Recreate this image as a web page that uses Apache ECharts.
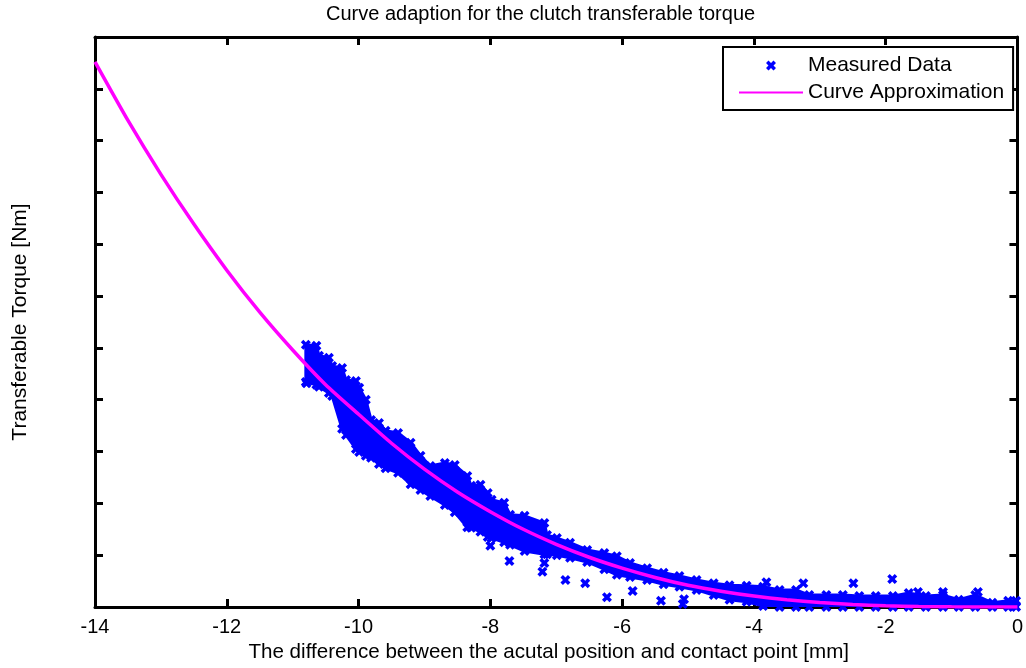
<!DOCTYPE html>
<html>
<head>
<meta charset="utf-8">
<script src="https://cdn.jsdelivr.net/npm/echarts@6/dist/echarts.min.js"></script>
<style>html,body{margin:0;padding:0;background:#fff;}#chart{width:1026px;height:668px;}</style>
</head>
<body>
<div id="chart"></div>
<script>
// Approximation curve
const curveX = [-14,-13.5,-13,-12.5,-12,-11.5,-11,-10.5,-10,-9.5,-9,-8.5,-8,-7.5,-7,-6.5,-6,-5.5,-5,-4.5,-4,-3.5,-3,-2.5,-2,-1.5,-1,-0.5,0];
const curveY = [10.52,9.39,8.35,7.39,6.50,5.69,4.96,4.29,3.72,3.16,2.66,2.22,1.84,1.50,1.21,0.96,0.75,0.57,0.42,0.305,0.211,0.139,0.086,0.049,0.024,0.010,0.003,0.0005,0];

// Dense measured-data band: lower and upper envelope
const bandX = [-10.80,-10.64,-10.60,-10.45,-10.40,-10.25,-10.19,-10.04,-9.99,-9.89,-9.81,-9.69,-9.59,-9.40,-9.21,-9.06,-8.91,-8.69,-8.54,-8.35,-8.29,-8.15,-8.04,-7.98,-7.79,-7.70,-7.48,-7.18,-7.14,-6.99,-6.79,-6.53,-6.27,-6.08,-5.88,-5.62,-5.37,-5.13,-4.87,-4.61,-4.37,-4.11,-3.86,-3.61,-3.36,-3.16,-2.90,-2.65,-2.40,-2.15,-1.89,-1.65,-1.39,-1.13,-0.89,-0.64,-0.38,-0.14,-0.02];
const bandHigh = [5.06,5.04,4.85,4.81,4.65,4.61,4.38,4.36,4.23,4.00,3.61,3.55,3.40,3.36,3.17,2.92,2.72,2.78,2.74,2.53,2.34,2.36,2.20,2.07,2.01,1.78,1.76,1.62,1.39,1.33,1.24,1.10,1.04,0.98,0.85,0.75,0.66,0.60,0.52,0.46,0.42,0.41,0.39,0.33,0.33,0.23,0.23,0.23,0.21,0.21,0.21,0.27,0.21,0.23,0.14,0.23,0.08,0.12,0.12];
const bandLow = [4.34,4.29,4.25,4.13,4.07,3.44,3.32,3.05,2.99,2.92,2.88,2.76,2.68,2.59,2.37,2.26,2.14,1.97,1.83,1.54,1.53,1.45,1.35,1.33,1.25,1.20,1.08,1.02,1.02,1.00,0.95,0.87,0.73,0.62,0.58,0.52,0.44,0.39,0.33,0.23,0.14,0.10,0.02,0,0,0,0,0,0,0,0,0,0,0,0,0,0,0,0];

// Isolated measured points
const outX = [-8.00,-7.71,-7.18,-7.21,-6.86,-6.56,-6.23,-5.84,-5.41,-5.06,-5.08,-3.81,-3.25,-2.49,-1.90,-1.51,-1.13,-0.60,-10.79];
const outY = [1.18,0.89,0.85,0.68,0.52,0.46,0.19,0.31,0.12,0.15,0.06,0.48,0.46,0.46,0.54,0.29,0.29,0.29,4.32];

const xTicks = [-14,-12,-10,-8,-6,-4,-2,0];

const X_SYM = 'path://M0,2.5 L2.5,0 L5,2.5 L7.5,0 L10,2.5 L7.5,5 L10,7.5 L7.5,10 L5,7.5 L2.5,10 L0,7.5 L2.5,5 Z';
const BLUE = '#0000ff';
const MAG = '#ff00ff';
const FONT = 'Liberation Sans, Arial, sans-serif';

const chart = echarts.init(document.getElementById('chart'), null, {renderer: 'canvas'});

const axisLine = {show: true, onZero: false, lineStyle: {color: '#000', width: 3}};
const axisTick = {show: true, inside: true, length: 8, lineStyle: {color: '#000', width: 3}};

function renderBand(params, api) {
  if (params.dataIndex !== 0) return null;
  const pts = [];
  for (let i = 0; i < bandX.length; i++) pts.push(api.coord([bandX[i], bandHigh[i]]));
  for (let i = bandX.length - 1; i >= 0; i--) pts.push(api.coord([bandX[i], bandLow[i]]));
  return {
    type: 'polygon',
    shape: {points: pts},
    style: {fill: BLUE, stroke: BLUE, lineWidth: 3, lineJoin: 'round'}
  };
}

chart.setOption({
  animation: false,
  backgroundColor: '#fff',
  title: {
    text: 'Curve adaption for the clutch transferable torque',
    left: 326, top: 4, padding: 0,
    textStyle: {fontFamily: FONT, fontSize: 20, fontWeight: 'normal', color: '#000'}
  },
  grid: {left: 95, right: 4, top: 37, bottom: 61, containLabel: false},
  legend: {
    data: ['Measured Data', 'Curve Approximation'],
    orient: 'vertical', left: 723, top: 47, align: 'left',
    padding: [8, 9, 7, 15], itemGap: 6, itemWidth: 64, itemHeight: 10,
    borderColor: '#000', borderWidth: 2, backgroundColor: '#fff', borderRadius: 0,
    textStyle: {fontFamily: FONT, fontSize: 21, color: '#000'}
  },
  xAxis: [{
    type: 'value', min: -14, max: 0, interval: 2, position: 'bottom',
    name: 'The difference between the acutal position and contact point [mm]',
    nameLocation: 'middle', nameGap: 35,
    nameTextStyle: {fontFamily: FONT, fontSize: 20.6, color: '#000', padding: [0, 15, 0, 0]},
    axisLine: axisLine, axisTick: axisTick, splitLine: {show: false},
    axisLabel: {fontFamily: FONT, fontSize: 20, color: '#000', margin: 10,
      formatter: v => xTicks.includes(v) ? String(v) : ''}
  }, {
    type: 'value', min: -14, max: 0, interval: 2, position: 'top',
    axisLine: axisLine, axisTick: axisTick, splitLine: {show: false}, axisLabel: {show: false}
  }],
  yAxis: [{
    type: 'value', min: 0, max: 11, interval: 1, position: 'left',
    name: 'Transferable Torque [Nm]', nameLocation: 'middle', nameGap: 64,
    nameTextStyle: {fontFamily: FONT, fontSize: 21, color: '#000'},
    axisLine: axisLine, axisTick: axisTick, splitLine: {show: false}, axisLabel: {show: false}
  }, {
    type: 'value', min: 0, max: 11, interval: 1, position: 'right',
    axisLine: axisLine, axisTick: axisTick, splitLine: {show: false}, axisLabel: {show: false}
  }],
  series: [
    {
      name: 'band', type: 'custom', renderItem: renderBand,
      data: bandX.map((x, i) => [x, bandLow[i]]),
      encode: {x: 0, y: 1}, clip: true, silent: true, z: 2
    },
    {
      name: 'bandUpperEdge', type: 'scatter',
      data: bandX.map((x, i) => [x, bandHigh[i]]),
      symbol: X_SYM, symbolSize: 10, itemStyle: {color: BLUE, opacity: 1}, silent: true, z: 2
    },
    {
      name: 'bandLowerEdge', type: 'scatter',
      data: bandX.map((x, i) => [x, bandLow[i]]),
      symbol: X_SYM, symbolSize: 10, itemStyle: {color: BLUE, opacity: 1}, silent: true, z: 2
    },
    {
      name: 'Measured Data', type: 'scatter',
      data: outX.map((x, i) => [x, outY[i]]),
      symbol: X_SYM, symbolSize: 10, itemStyle: {color: BLUE, opacity: 1}, z: 3
    },
    {
      name: 'Curve Approximation', type: 'line',
      data: curveX.map((x, i) => [x, curveY[i]]),
      symbol: 'none', smooth: 0.2,
      lineStyle: {color: MAG, width: 3.5},
      itemStyle: {color: 'rgba(255,0,255,0)'}, z: 4
    }
  ]
});
</script>
</body>
</html>
